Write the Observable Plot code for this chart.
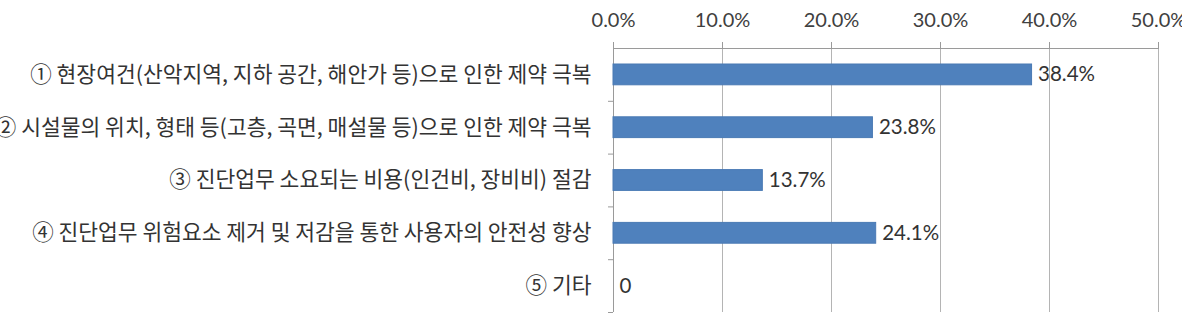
<!DOCTYPE html>
<html>
<head>
<meta charset="utf-8">
<script src="https://cdn.jsdelivr.net/npm/d3@7"></script>
<script src="https://cdn.jsdelivr.net/npm/@observablehq/plot@0.6"></script>
<style>
  html, body { margin: 0; padding: 0; background: #fff; overflow: hidden; }
  #chart svg { display: block; overflow: visible; }
</style>
</head>
<body>
<div id="chart"></div>
<script>
const categories = [
  "① 현장여건(산악지역, 지하 공간, 해안가 등)으로 인한 제약 극복",
  "② 시설물의 위치, 형태 등(고층, 곡면, 매설물 등)으로 인한 제약 극복",
  "③ 진단업무 소요되는 비용(인건비, 장비비) 절감",
  "④ 진단업무 위험요소 제거 및 저감을 통한 사용자의 안전성 향상",
  "⑤ 기타"
];
const values = [0.384, 0.238, 0.137, 0.241, 0];
const valueLabels = ["38.4%", "23.8%", "13.7%", "24.1%", "0"];
const xTicks = [0, 0.1, 0.2, 0.3, 0.4, 0.5];

const data = categories.map((c, i) => ({cat: c, i, value: values[i], label: valueLabels[i]}));
const labelTicks = categories.map((c, i) => i + 0.5);
const boundaryTicks = categories.map((c, i) => i + 1);

const numFont = "Lato, 'Noto Sans CJK KR', sans-serif";
const krFont = "'Noto Sans CJK KR', sans-serif";

const chart = Plot.plot({
  width: 1182,
  height: 314,
  marginTop: 48,
  marginBottom: 2,
  marginLeft: 613,
  marginRight: 24,
  style: {fontFamily: krFont, color: "#404040", background: "#fff"},
  x: {domain: [0, 0.5], axis: null},
  y: {domain: [categories.length, 0], axis: null},
  marks: [
    Plot.gridX(xTicks.slice(1), {stroke: "#b4b4b4", strokeOpacity: 1}),
    Plot.axisX(xTicks, {
      anchor: "top", label: null, tickSize: 7, tickPadding: 15, stroke: "#9a9a9a",
      tickFormat: d3.format(".1%"), fontSize: 20, fontFamily: numFont, fill: "#404040"
    }),
    Plot.ruleY([0], {stroke: "#9a9a9a"}),
    Plot.ruleX([0], {stroke: "#9a9a9a"}),
    Plot.axisY(boundaryTicks, {anchor: "left", label: null, tickSize: 5, tickFormat: () => "", stroke: "#9a9a9a"}),
    Plot.axisY(labelTicks, {
      anchor: "left", label: null, tickSize: 0, tickPadding: 22,
      tickFormat: d => categories[Math.floor(d)], fontSize: 21.5, fontFamily: krFont, fill: "#333"
    }),
    Plot.rectX(data, {
      x1: 0, x2: "value", y1: "i", y2: d => d.i + 1,
      insetTop: 16, insetBottom: 16, fill: "#4f81bd", stroke: "#4a7ab4", strokeWidth: 1
    }),
    Plot.text(data, {
      x: "value", y: d => d.i + 0.5, text: "label", textAnchor: "start", dx: 6,
      fontSize: 20.5, fontFamily: numFont, fill: "#333"
    })
  ]
});
document.getElementById("chart").appendChild(chart);
</script>
</body>
</html>
